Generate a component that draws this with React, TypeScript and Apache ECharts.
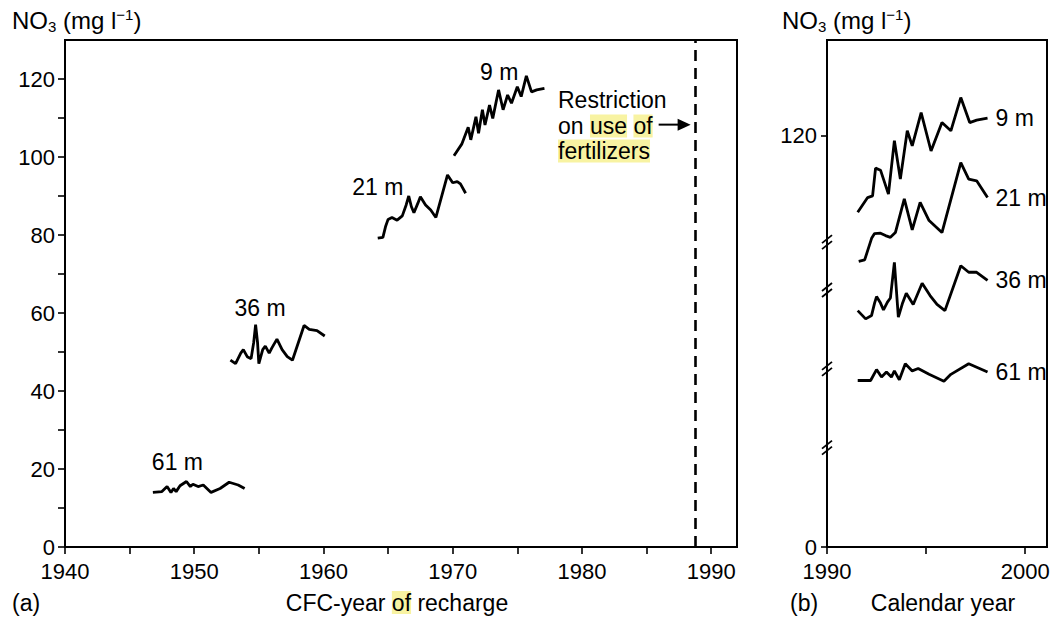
import { useEffect, useRef } from "react";
import * as echarts from "echarts";

// ---- Panel (a): NO3 vs CFC-year of recharge ----
const cfcYear61 = [1946.8, 1947.5, 1947.9, 1948.2, 1948.4, 1948.6, 1948.9, 1949.4, 1949.7, 1949.9, 1950.3, 1950.7, 1951.3, 1952.0, 1952.7, 1953.4, 1953.9];
const no3_61 = [14.0, 14.2, 15.5, 14.0, 15.0, 14.2, 15.7, 16.8, 15.5, 16.1, 15.5, 15.9, 14.0, 15.0, 16.6, 15.9, 15.0];

const cfcYear36 = [1952.8, 1953.2, 1953.6, 1953.8, 1954.1, 1954.4, 1954.6, 1954.75, 1954.9, 1955.0, 1955.3, 1955.5, 1955.8, 1956.0, 1956.4, 1956.8, 1957.2, 1957.6, 1958.5, 1958.9, 1959.5, 1960.1];
const no3_36 = [47.9, 47.0, 49.7, 50.6, 48.8, 48.3, 52.4, 57.0, 52.4, 47.0, 50.6, 51.5, 49.7, 51.0, 53.3, 50.6, 48.8, 47.9, 56.8, 55.8, 55.5, 54.1];

const cfcYear21 = [1964.2, 1964.6, 1964.8, 1965.0, 1965.3, 1965.7, 1966.1, 1966.4, 1966.6, 1966.8, 1967.0, 1967.3, 1967.5, 1967.9, 1968.3, 1968.7, 1969.6, 1970.0, 1970.35, 1970.6, 1971.0];
const no3_21 = [79.2, 79.4, 82.1, 84.0, 84.5, 83.8, 84.9, 87.7, 90.0, 87.3, 85.7, 88.1, 89.8, 87.7, 86.4, 84.5, 95.4, 93.4, 93.7, 93.1, 90.7];

const cfcYear9 = [1970.1, 1970.7, 1971.2, 1971.4, 1971.8, 1972.0, 1972.3, 1972.5, 1972.85, 1973.1, 1973.55, 1973.9, 1974.25, 1974.55, 1975.0, 1975.3, 1975.7, 1976.1, 1976.5, 1977.1];
const no3_9 = [100.3, 103.3, 107.6, 104.4, 110.3, 106.1, 112.1, 108.2, 113.3, 109.9, 117.2, 112.1, 115.9, 113.8, 118.0, 115.5, 120.8, 116.7, 117.2, 117.6];

const restrictionYear = 1988.8;

// ---- Panel (b): NO3 vs calendar year (broken axis, plotted in display units) ----
const calYear9 = [1991.55, 1992.05, 1992.3, 1992.45, 1992.7, 1993.1, 1993.4, 1993.7, 1994.05, 1994.3, 1994.75, 1995.25, 1995.8, 1996.25, 1996.75, 1997.2, 1997.55, 1998.1];
const disp9 = [97.7, 102.0, 102.5, 110.6, 110.0, 103.0, 118.6, 107.4, 121.5, 117.1, 126.8, 115.6, 123.9, 121.5, 131.2, 123.9, 124.6, 125.2];

const calYear21 = [1991.6, 1991.9, 1992.25, 1992.4, 1992.7, 1992.95, 1993.2, 1993.45, 1993.9, 1994.3, 1994.7, 1995.15, 1995.8, 1996.75, 1997.15, 1997.55, 1998.1];
const disp21 = [83.4, 83.8, 90.1, 91.5, 91.6, 90.9, 90.4, 91.8, 101.6, 92.6, 100.6, 95.3, 91.8, 112.2, 107.4, 106.9, 102.0];

const calYear36 = [1991.55, 1991.95, 1992.25, 1992.4, 1992.5, 1992.7, 1992.85, 1993.05, 1993.2, 1993.4, 1993.6, 1993.8, 1994.0, 1994.35, 1994.8, 1995.2, 1995.55, 1995.95, 1996.75, 1997.15, 1997.55, 1998.1];
const disp36 = [69.0, 66.6, 67.6, 71.2, 73.1, 71.2, 69.2, 71.5, 72.7, 83.1, 67.1, 71.0, 74.1, 70.8, 77.0, 73.4, 70.8, 69.0, 82.1, 80.2, 80.2, 77.8];

const calYear61 = [1991.55, 1992.2, 1992.5, 1992.75, 1993.0, 1993.25, 1993.4, 1993.65, 1993.95, 1994.3, 1994.6, 1995.15, 1995.9, 1996.25, 1997.15, 1998.1];
const disp61 = [48.6, 48.6, 51.8, 49.6, 51.1, 49.6, 51.4, 48.8, 53.5, 51.4, 52.1, 50.4, 48.4, 50.4, 53.5, 51.1];

const axisBreaks = [89, 75, 52, 29];

const leftTicks = [0, 20, 40, 60, 80, 100, 120];
const leftMinorTicks = [0, 10, 20, 30, 40, 50, 60, 70, 80, 90, 100, 110, 120];
const leftXLabels = [1940, 1950, 1960, 1970, 1980, 1990];
const leftXTicks = [1940, 1945, 1950, 1955, 1960, 1965, 1970, 1975, 1980, 1985, 1990];
const rightYLabels = [0, 120];
const rightXLabels = [1990, 2000];
const rightXTicks = [1990, 1995, 2000];

const zip = (xs: number[], ys: number[]) => xs.map((x, i) => [x, ys[i]]);

const FONT = "'Liberation Sans', Arial, Helvetica, sans-serif";
const HL = "#f8f3a2";
const TICK_FS = 22;
const TEXT_FS = 23;

export default function App() {
  const ref = useRef<HTMLDivElement>(null);

  useEffect(() => {
    if (!ref.current) return;
    const chart = echarts.init(ref.current, undefined, { renderer: "svg" });

    const lineStyle = { color: "#000", width: 2.8 };
    const axisCommon = {
      axisLine: { show: true, lineStyle: { color: "#000", width: 2 } },
      splitLine: { show: false },
    };
    const lbl = (values: number[], margin: number) => ({
      customValues: values,
      color: "#000",
      fontSize: TICK_FS,
      fontFamily: FONT,
      margin,
      formatter: (v: number) => String(v),
    });
    const tick = (values: number[], length: number) => ({
      show: true,
      inside: false,
      length,
      customValues: values,
      lineStyle: { color: "#000", width: 1.6 },
    });
    const mk = (name: string, data: number[][], g: number, extra: any = {}) => ({
      type: "line",
      name,
      xAxisIndex: g,
      yAxisIndex: g,
      data,
      symbol: "none",
      lineStyle,
      silent: true,
      ...extra,
    });
    const endLabel = (t: string) => ({
      endLabel: {
        show: true,
        formatter: t,
        distance: 8,
        fontSize: TEXT_FS,
        color: "#000",
        fontFamily: FONT,
      },
    });

    chart.setOption({
      animation: false,
      grid: [
        { left: 65, right: 317, top: 40, bottom: 76, show: true, borderColor: "#000", borderWidth: 2, containLabel: false },
        { left: 827, right: 7, top: 40, bottom: 76, show: true, borderColor: "#000", borderWidth: 2, containLabel: false },
      ],
      xAxis: [
        { type: "value", gridIndex: 0, min: 1940, max: 1992, ...axisCommon, axisTick: tick(leftXTicks, 7), axisLabel: lbl(leftXLabels, 13) },
        { type: "value", gridIndex: 1, min: 1990, max: 2001.1, ...axisCommon, axisTick: tick(rightXTicks, 7), axisLabel: lbl(rightXLabels, 13) },
      ],
      yAxis: [
        { type: "value", gridIndex: 0, min: 0, max: 130, ...axisCommon, axisTick: tick(leftMinorTicks, 7), axisLabel: lbl(leftTicks, 10) },
        { type: "value", gridIndex: 1, min: 0, max: 148, ...axisCommon, axisTick: tick(rightYLabels, 6), axisLabel: lbl(rightYLabels, 10) },
      ],
      series: [
        mk("61 m", zip(cfcYear61, no3_61), 0),
        mk("36 m", zip(cfcYear36, no3_36), 0),
        mk("21 m", zip(cfcYear21, no3_21), 0),
        mk("9 m", zip(cfcYear9, no3_9), 0, {
          markLine: {
            silent: true,
            symbol: "none",
            label: { show: false },
            lineStyle: { color: "#000", width: 2.6, type: [11, 7] },
            data: [{ xAxis: restrictionYear }],
          },
        }),
        mk("9 m b", zip(calYear9, disp9), 1, endLabel("9 m")),
        mk("21 m b", zip(calYear21, disp21), 1, endLabel("21 m")),
        mk("36 m b", zip(calYear36, disp36), 1, endLabel("36 m")),
        mk("61 m b", zip(calYear61, disp61), 1, endLabel("61 m")),
      ],
    });

    const px = (g: number, x: number, y: number) =>
      chart.convertToPixel({ gridIndex: g } as any, [x, y]) as unknown as number[];

    const graphics: any[] = [];
    const txt = (x: number, y: number, text: string, extra: any = {}) => ({
      type: "text",
      x,
      y,
      silent: true,
      style: { text, fill: "#000", fontSize: TEXT_FS, fontFamily: FONT, ...extra },
    });

    // series labels (panel a)
    const labelAnchors: [string, number, number][] = [
      ["61 m", 1948.7, 21.8],
      ["36 m", 1955.1, 61.3],
      ["21 m", 1964.2, 92.3],
      ["9 m", 1973.6, 121.8],
    ];
    labelAnchors.forEach(([t, xv, yv]) => {
      const [x, y] = px(0, xv, yv);
      graphics.push(txt(x, y, t, { align: "center", verticalAlign: "middle" }));
    });

    // annotation
    const [dashX, arrowY] = px(0, restrictionYear, 108.3);
    graphics.push(
      txt(558, 87, "Restriction\non {h|use} {h|of}\n{h|fertilizers}", {
        lineHeight: 26,
        rich: {
          h: { backgroundColor: HL, fontSize: TEXT_FS, fontFamily: FONT, fill: "#000", lineHeight: 24 },
        },
      })
    );
    const tip = dashX - 5;
    graphics.push({
      type: "line",
      silent: true,
      shape: { x1: tip - 32, y1: arrowY, x2: tip - 10, y2: arrowY },
      style: { stroke: "#000", lineWidth: 2 },
    });
    graphics.push({
      type: "polygon",
      silent: true,
      shape: { points: [[tip, arrowY], [tip - 13, arrowY - 6], [tip - 13, arrowY + 6]] },
      style: { fill: "#000" },
    });

    // axis break marks on panel b
    axisBreaks.forEach((v) => {
      const [x, y] = px(1, 1990, v);
      graphics.push({
        type: "rect",
        silent: true,
        shape: { x: x - 3, y: y - 3, width: 6, height: 6 },
        style: { fill: "#fff" },
      });
      [-3, 3].forEach((d) => {
        graphics.push({
          type: "line",
          silent: true,
          shape: { x1: x - 5, y1: y + d + 4, x2: x + 5, y2: y + d - 4 },
          style: { stroke: "#000", lineWidth: 1.8 },
        });
      });
    });

    // titles
    const titleRich = {
      sub: { fontSize: 15, fontFamily: FONT, fill: "#000", verticalAlign: "bottom", lineHeight: 15 },
      sup: { fontSize: 15, fontFamily: FONT, fill: "#000", verticalAlign: "top", lineHeight: 15 },
    };
    graphics.push(txt(12, 7, "NO{sub|3} (mg l{sup|−1})", { fontSize: 24, lineHeight: 27, rich: titleRich }));
    graphics.push(txt(782, 7, "NO{sub|3} (mg l{sup|−1})", { fontSize: 24, lineHeight: 27, rich: titleRich }));

    const [midA] = px(0, 1966, 0);
    const [midB] = px(1, 1995.55, 0);
    graphics.push(txt(12, 591, "(a)"));
    graphics.push(
      txt(midA - 4, 591, "CFC-year {h|of} recharge", {
        align: "center",
        rich: { h: { backgroundColor: HL, fontSize: TEXT_FS, fontFamily: FONT, fill: "#000" } },
      })
    );
    graphics.push(txt(790, 591, "(b)"));
    graphics.push(txt(midB + 6, 591, "Calendar year", { align: "center" }));

    chart.setOption({ graphic: graphics });

    return () => chart.dispose();
  }, []);

  return (
    <div
      ref={ref}
      style={{ position: "fixed", left: 0, top: 0, width: 1054, height: 623, background: "#fff" }}
    />
  );
}
